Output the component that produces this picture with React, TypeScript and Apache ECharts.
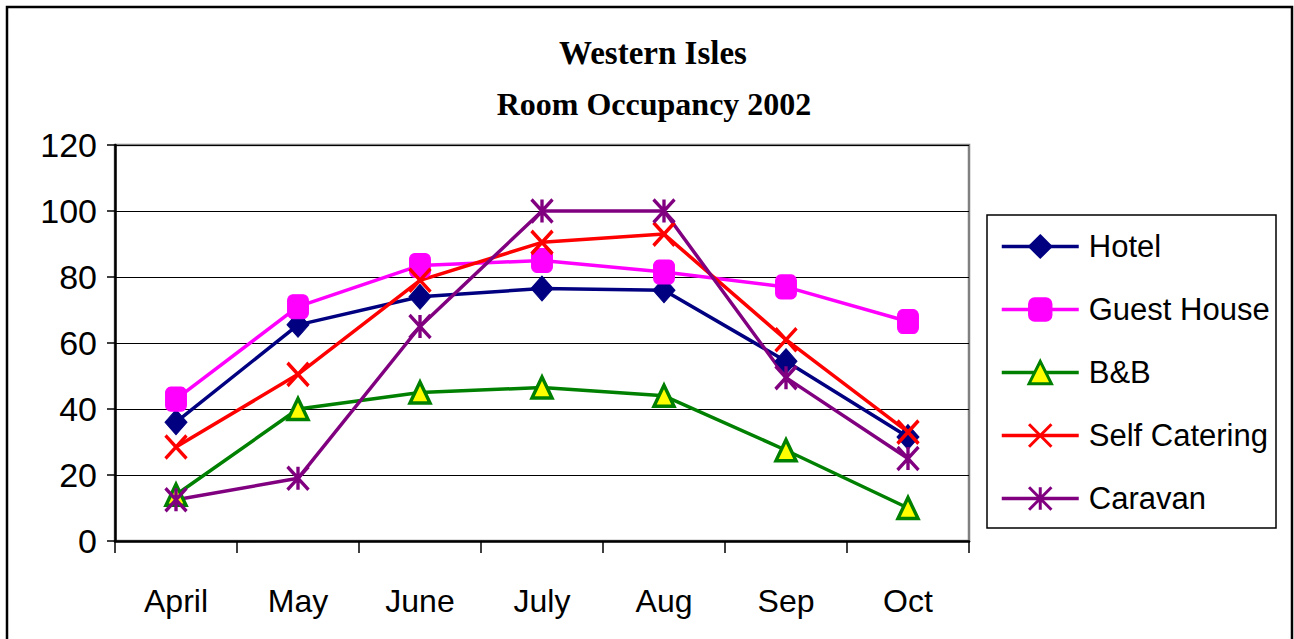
import React, { useEffect, useRef } from "react";
import * as echarts from "echarts";

const months = ["April", "May", "June", "July", "Aug", "Sep", "Oct"];
const hotel = [36, 65.5, 74, 76.5, 76, 54.5, 31.5];
const guestHouse = [43, 71, 83.5, 85, 81.5, 77, 66.5];
const bnb = [14, 40, 45, 46.5, 44, 27.5, 10];
const selfCatering = [28.5, 50.5, 79, 90.5, 93, 61, 33];
const caravan = [12.5, 19, 65, 100, 100, 49.5, 25];
const titleLines = ["Western Isles", "Room Occupancy 2002"];

const SANS = 'Arial, "Liberation Sans", sans-serif';
const SERIF = '"Times New Roman", "Liberation Serif", serif';

export default function App() {
  const ref = useRef<HTMLDivElement>(null);
  useEffect(() => {
    document.body.style.margin = "0";
    const chart = echarts.init(ref.current!, null, { renderer: "svg" });
    const lineSeries = (
      name: string,
      data: number[],
      color: string,
      symbol: string,
      symbolSize: number[],
      itemStyle: any
    ) => ({
      name,
      type: "line",
      data,
      symbol,
      symbolSize,
      showAllSymbol: true,
      lineStyle: { color, width: 3.5 },
      itemStyle: { color, ...itemStyle },
      emphasis: { disabled: true },
    });
    chart.setOption({
      animation: false,
      backgroundColor: "#fff",
      grid: {
        left: 115,
        top: 145,
        width: 854,
        height: 396,
        show: true,
        borderColor: "#808080",
        borderWidth: 2.5,
        backgroundColor: "transparent",
      },
      graphic: [
        {
          type: "rect",
          shape: { x: 7, y: 7, width: 1285, height: 660 },
          style: { fill: "none", stroke: "#000", lineWidth: 2.5 },
          silent: true,
        },
        {
          type: "rect",
          shape: { x: 987, y: 215, width: 289, height: 313 },
          style: { fill: "none", stroke: "#000", lineWidth: 1.5 },
          silent: true,
        },
        {
          type: "text",
          x: 653,
          y: 53,
          style: {
            text: titleLines[0],
            font: `bold 33px ${SERIF}`,
            fill: "#000",
            textAlign: "center",
            textVerticalAlign: "middle",
          },
        },
        {
          type: "text",
          x: 654,
          y: 104,
          style: {
            text: titleLines[1],
            font: `bold 32px ${SERIF}`,
            fill: "#000",
            textAlign: "center",
            textVerticalAlign: "middle",
          },
        },
      ],
      legend: {
        orient: "vertical",
        left: 1000,
        top: 231,
        padding: 0,
        itemWidth: 77,
        itemHeight: 28,
        itemGap: 32,
        selectedMode: false,
        lineStyle: { width: 3.5 },
        textStyle: {
          fontFamily: SANS,
          fontSize: 31,
          color: "#000",
          lineHeight: 28,
          padding: [0, 0, 0, 5],
        },
        data: [
          { name: "Hotel" },
          { name: "Guest House" },
          { name: "B&B", itemStyle: { borderWidth: 3 } },
          { name: "Self Catering", itemStyle: { borderWidth: 3 } },
          { name: "Caravan", itemStyle: { borderWidth: 3 } },
        ],
      },
      xAxis: {
        type: "category",
        data: months,
        boundaryGap: true,
        axisLine: { show: true, lineStyle: { color: "#000", width: 2.5 } },
        axisTick: { show: true, length: 12, lineStyle: { color: "#000", width: 1.5 } },
        axisLabel: {
          margin: 44,
          fontFamily: SANS,
          fontSize: 32,
          color: "#000",
        },
        splitLine: { show: false },
      },
      yAxis: {
        type: "value",
        min: 0,
        max: 120,
        interval: 20,
        axisLine: { show: true, lineStyle: { color: "#000", width: 2.5 } },
        axisTick: { show: true, length: 8, lineStyle: { color: "#000", width: 1.5 } },
        axisLabel: {
          margin: 18,
          fontFamily: SANS,
          fontSize: 34,
          color: "#000",
        },
        splitLine: { show: true, lineStyle: { color: "#000", width: 1.2 } },
      },
      series: [
        lineSeries("Hotel", hotel, "#000080", "diamond", [22, 25], {
          borderColor: "#000080",
          borderWidth: 1,
        }),
        lineSeries("Guest House", guestHouse, "#FF00FF", "roundRect", [21, 24], {
          borderColor: "#FF00FF",
          borderWidth: 1,
        }),
        lineSeries("B&B", bnb, "#008000", "triangle", [20, 21], {
          color: "#FFFF00",
          borderColor: "#008000",
          borderWidth: 3.5,
        }),
        lineSeries("Self Catering", selfCatering, "#FF0000", "path://M0,0L20,22M20,0L0,22", [21, 23], {
          borderColor: "#FF0000",
          borderWidth: 3.5,
        }),
        lineSeries("Caravan", caravan, "#800080", "path://M0,0L20,22M20,0L0,22M10,0L10,22", [21, 23], {
          borderColor: "#800080",
          borderWidth: 3.5,
        }),
      ],
    });
    return () => chart.dispose();
  }, []);
  return <div ref={ref} style={{ width: 1294, height: 639 }} />;
}
